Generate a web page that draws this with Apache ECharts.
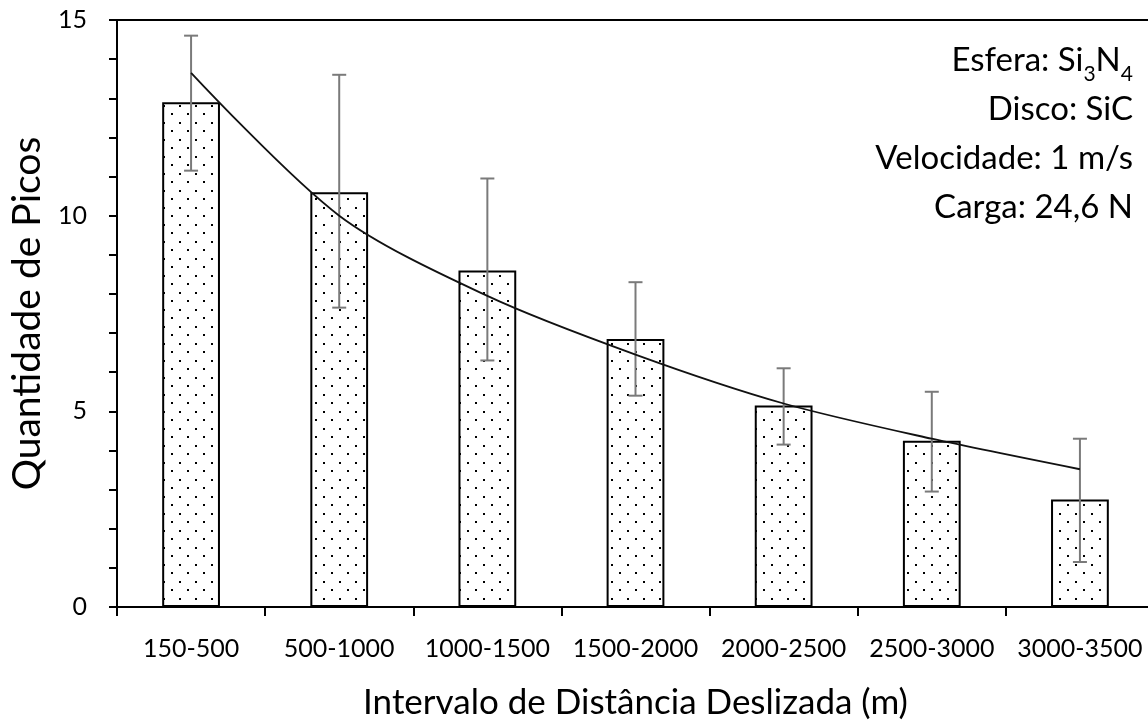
<!DOCTYPE html>
<html>
<head>
<meta charset="utf-8">
<script src="https://cdn.jsdelivr.net/npm/echarts@6/dist/echarts.min.js"></script>
<style>
html,body{margin:0;padding:0;background:#fff;}
#chart{width:1148px;height:721px;}
</style>
</head>
<body>
<div id="chart"></div>
<script>
var categories = ['150-500','500-1000','1000-1500','1500-2000','2000-2500','2500-3000','3000-3500'];
var peaks = [12.9, 10.6, 8.6, 6.85, 5.15, 4.25, 2.75];
var errLow = [11.15, 7.65, 6.3, 5.4, 4.15, 2.95, 1.15];
var errHigh = [14.6, 13.6, 10.95, 8.3, 6.1, 5.5, 4.3];
var trend = [13.65, 10.0, 7.95, 6.45, 5.2, 4.3, 3.52];
var yTicks = [0, 5, 10, 15];

var FONT = 'Lato';

// dotted pattern
var pc = document.createElement('canvas');
pc.width = 16; pc.height = 17;
var pctx = pc.getContext('2d');
pctx.fillStyle = '#ffffff';
pctx.fillRect(0,0,16,17);
pctx.fillStyle = '#000000';
pctx.fillRect(3,3,2,2);
pctx.fillRect(11,11,2,2);

var errData = categories.map(function(c,i){ return [i, errLow[i], errHigh[i]]; });

var chart = echarts.init(document.getElementById('chart'), null, {renderer:'canvas'});
chart.setOption({
  animation: false,
  backgroundColor: '#fff',
  grid: {left: 117, top: 20, right: -6, bottom: 114, containLabel: false, outerBoundsMode: 'none'},
  xAxis: [{
    type: 'category',
    data: categories,
    position: 'bottom',
    axisLine: {show: true, lineStyle: {color: '#000', width: 2}},
    axisTick: {show: true, alignWithLabel: false, length: 9, lineStyle: {color: '#000', width: 2}},
    axisLabel: {fontFamily: FONT, fontSize: 25, color: '#000', margin: 29, interval: 0, hideOverlap: false},
    name: 'Intervalo de Distância Deslizada (m)',
    nameLocation: 'middle',
    nameGap: 78,
    nameTextStyle: {fontFamily: FONT, fontSize: 35, color: '#000'}
  },{
    type: 'category',
    data: categories,
    position: 'top',
    axisLine: {show: true, lineStyle: {color: '#000', width: 2}},
    axisTick: {show: false},
    axisLabel: {show: false}
  }],
  yAxis: {
    type: 'value',
    min: 0, max: 15, interval: 5,
    axisLine: {show: true, lineStyle: {color: '#000', width: 2}},
    axisTick: {show: true, length: 8, lineStyle: {color: '#000', width: 2}},
    minorTick: {show: true, splitNumber: 5, length: 8, lineStyle: {color: '#000', width: 2}},
    splitLine: {show: false},
    axisLabel: {fontFamily: FONT, fontSize: 25, color: '#000', margin: 30,
      formatter: function(v){ return yTicks.indexOf(v) >= 0 ? String(v) : ''; }},
    name: 'Quantidade de Picos',
    nameLocation: 'middle',
    nameGap: 62,
    nameRotate: 90,
    nameTextStyle: {fontFamily: FONT, fontSize: 39, color: '#000'}
  },
  series: [{
    type: 'bar',
    data: peaks,
    barWidth: '39%',
    itemStyle: {color: {image: pc, repeat: 'repeat'}, borderColor: '#000', borderWidth: 2}
  },{
    type: 'custom',
    data: errData,
    z: 5,
    renderItem: function(params, api){
      var x = api.value(0);
      var lo = api.coord([x, api.value(1)]);
      var hi = api.coord([x, api.value(2)]);
      var hw = 7;
      var st = {stroke: '#7a7a7a', lineWidth: 2};
      return {type: 'group', children: [
        {type: 'line', shape: {x1: lo[0], y1: lo[1], x2: hi[0], y2: hi[1]}, style: st},
        {type: 'line', shape: {x1: hi[0]-hw, y1: hi[1], x2: hi[0]+hw, y2: hi[1]}, style: st},
        {type: 'line', shape: {x1: lo[0]-hw, y1: lo[1], x2: lo[0]+hw, y2: lo[1]}, style: st}
      ]};
    }
  },{
    type: 'line',
    data: trend,
    smooth: 0.3,
    symbol: 'none',
    z: 6,
    lineStyle: {color: '#111', width: 1.8}
  }],
  graphic: [{
    type: 'text',
    x: 1133, y: 36,
    style: {
      text: 'Esfera: Si{s|3}N{s|4}\nDisco: SiC\nVelocidade: 1 m/s\nCarga: 24,6 N',
      align: 'right',
      verticalAlign: 'top',
      fontFamily: FONT,
      fontSize: 33,
      lineHeight: 49,
      fill: '#000',
      rich: {s: {fontFamily: FONT, fontSize: 21, lineHeight: 49, verticalAlign: 'bottom', padding: [16,0,0,0]}}
    }
  }]
});
</script>
</body>
</html>
